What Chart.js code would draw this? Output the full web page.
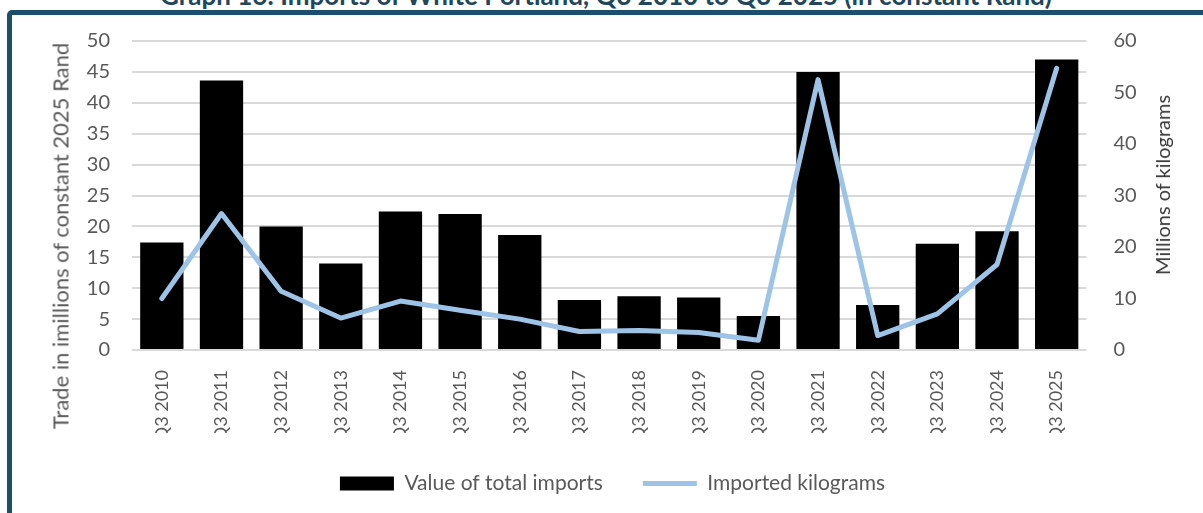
<!DOCTYPE html>
<html lang="en">
<head>
<meta charset="UTF-8" />
<title>Imports of White Portland</title>
<style>
  html, body {
    margin: 0;
    padding: 0;
    background: #ffffff;
    overflow: hidden;
  }
  #wrap {
    position: relative;
    width: 1203px;
    height: 513px;
    overflow: hidden;
    font-family: Lato, 'Open Sans', sans-serif;
  }
  #frame {
    position: absolute;
    left: 7px;
    top: 10px;
    width: 1300px;
    height: 600px;
    border: 5px solid #1c4f6a;
    border-radius: 5px;
    box-sizing: border-box;
  }
  #title {
    position: absolute;
    left: 0;
    width: 1212px;
    top: -18px;
    text-align: center;
    font-size: 26px;
    line-height: 26px;
    font-weight: 700;
    color: #22475c;
    white-space: nowrap;
  }
  canvas {
    position: absolute;
    left: 0;
    top: 0;
  }
  .axis-title {
    position: absolute;
    white-space: nowrap;
    transform: translate(-50%, -50%) rotate(-90deg);
  }
  #ytitle {
    left: 60px;
    top: 236px;
    font-size: 22px;
    color: #595959;
  }
  #y2title {
    left: 1162px;
    top: 185px;
    font-size: 20px;
    color: #3a3a3a;
  }
</style>
</head>
<body>
<div id="wrap">
  <div id="frame"></div>
  <div id="title">Graph 16: Imports of White Portland, Q3 2010 to Q3 2025 (in constant Rand)</div>
  <canvas id="chart" width="1203" height="513"></canvas>
  <div class="axis-title" id="ytitle">Trade in imillions of constant 2025 Rand</div>
  <div class="axis-title" id="y2title">Millions of kilograms</div>
</div>

<script src="https://cdn.jsdelivr.net/npm/chart.js@4.4.0/dist/chart.umd.min.js"></script>
<script>
  // categories
  const quarters = ['Q3 2010', 'Q3 2011', 'Q3 2012', 'Q3 2013', 'Q3 2014', 'Q3 2015', 'Q3 2016', 'Q3 2017',
                    'Q3 2018', 'Q3 2019', 'Q3 2020', 'Q3 2021', 'Q3 2022', 'Q3 2023', 'Q3 2024', 'Q3 2025'];
  // value of total imports, R millions (constant 2025 Rand)
  const importValue = [17.4, 43.6, 20.0, 14.0, 22.4, 22.0, 18.6, 8.1, 8.7, 8.5, 5.5, 45.0, 7.3, 17.2, 19.2, 47.0];
  // imported kilograms, millions
  const importKg = [10.0, 26.5, 11.4, 6.2, 9.5, 7.7, 6.0, 3.6, 3.8, 3.4, 1.9, 52.5, 2.8, 7.0, 16.6, 54.7];
  const seriesNames = ['Value of total imports', 'Imported kilograms'];

  const font = 'Lato, "Open Sans", sans-serif';
  const tickColor = '#595959';

  new Chart(document.getElementById('chart'), {
    data: {
      labels: quarters,
      datasets: [
        {
          type: 'bar',
          label: seriesNames[0],
          data: importValue,
          backgroundColor: '#000000',
          borderWidth: 0,
          yAxisID: 'y',
          order: 1,
          pointStyle: 'rect',
          barPercentage: 0.726,
          categoryPercentage: 1
        },
        {
          type: 'line',
          label: seriesNames[1],
          data: importKg,
          borderColor: '#9dc3e6',
          backgroundColor: '#9dc3e6',
          borderWidth: 5,
          borderJoinStyle: 'round',
          borderCapStyle: 'round',
          tension: 0,
          pointRadius: 0,
          pointStyle: 'line',
          yAxisID: 'y1',
          order: 0
        }
      ]
    },
    options: {
      responsive: false,
      animation: false,
      layout: { padding: { top: 41, left: 22, right: 0, bottom: 9 } },
      plugins: {
        tooltip: { enabled: false },
        legend: {
          position: 'bottom',
          labels: {
            usePointStyle: true,
            pointStyleWidth: 54,
            boxHeight: 14,
            padding: 40,
            color: tickColor,
            font: { family: font, size: 21 },
            sort: (a, b) => a.datasetIndex - b.datasetIndex
          }
        }
      },
      scales: {
        x: {
          grid: { display: false },
          border: { display: false },
          ticks: {
            color: tickColor,
            font: { family: font, size: 18 },
            maxRotation: 90,
            minRotation: 90,
            autoSkip: false,
            padding: 12
          },
          afterFit: s => { s.height = 83; }
        },
        y: {
          position: 'left',
          min: 0,
          max: 50,
          ticks: {
            stepSize: 5,
            color: tickColor,
            font: { family: font, size: 20 },
            padding: 22
          },
          grid: { color: '#d9d9d9', lineWidth: 2, drawTicks: false },
          border: { display: false },
          afterFit: s => { s.width = 110; }
        },
        y1: {
          position: 'right',
          min: 0,
          max: 60,
          ticks: {
            stepSize: 10,
            color: tickColor,
            font: { family: font, size: 20 },
            padding: 27
          },
          grid: { display: false, drawTicks: false },
          border: { display: false },
          afterFit: s => { s.width = 116.5; }
        }
      }
    }
  });
</script>
</body>
</html>
